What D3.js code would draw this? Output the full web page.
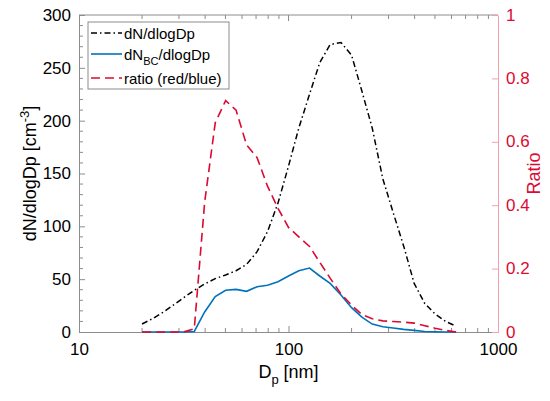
<!DOCTYPE html>
<html>
<head>
<meta charset="utf-8">
<script src="https://cdn.jsdelivr.net/npm/d3@7"></script>
<style>
  body { margin: 0; background: #fff; }
  svg { font-family: "Liberation Sans", Arial, sans-serif; }
</style>
</head>
<body>
<div id="container"></div>
<script>
const width = 550;
const height = 401;
const margin = { top: 15, right: 52, bottom: 69, left: 79 };

// particle diameter bins [nm]
const diameters = [20, 22.4, 25.1, 28.2, 31.6, 35.5, 39.8, 44.7, 50.1, 56.2, 63.1, 70.8,
  79.4, 89.1, 100, 112, 126, 141, 158, 178, 200, 224, 251, 282, 316, 355, 398, 447,
  501, 562, 631];
const dN = [7.6, 12.5, 18.5, 25.5, 32.5, 39.5, 45.5, 50.5, 54, 58, 64, 76,
  95, 122, 157, 193, 225, 255, 272, 274, 262, 228, 193, 145, 113, 81, 46, 27,
  17, 10, 5.5];
const dNBC = [0, 0, 0, 0, 0, 0.5, 19, 33.5, 39.5, 40.3, 38.5, 42.8,
  44.3, 47.5, 53, 58, 60.5, 53, 46, 35, 23, 14, 7.5, 5, 3.8, 2.5, 1.5, 0.5,
  0.2, 0, 0];
const ratio = [0, 0, 0, 0, 0, 0.01, 0.41, 0.66, 0.73, 0.70, 0.59, 0.55,
  0.46, 0.39, 0.33, 0.30, 0.27, 0.22, 0.17, 0.12, 0.085, 0.055, 0.042, 0.035, 0.033, 0.031, 0.028, 0.02,
  0.012, 0.005, 0];

const xTicks = [10, 100, 1000];
const yTicks = [0, 50, 100, 150, 200, 250, 300];
const rTicks = [0, 0.2, 0.4, 0.6, 0.8, 1];

const blue = "#0072bd";
const red = "#dc0a32";
const axisGrey = "#8c8c8c";

const svg = d3.select("#container").append("svg")
  .attr("width", width)
  .attr("height", height);

const x = d3.scaleLog().domain([10, 1000]).range([margin.left, width - margin.right]);
const y = d3.scaleLinear().domain([0, 300]).range([height - margin.bottom, margin.top]);
const yr = d3.scaleLinear().domain([0, 1]).range([height - margin.bottom, margin.top]);

const minorX = d3.range(1, 3).flatMap((e) => d3.range(2, 10).map((m) => m * 10 ** e));
const minorY = d3.range(0, 301, 10).filter((v) => v % 50 !== 0);

// bottom axis
svg.append("g")
  .attr("transform", `translate(0,${y(0)})`)
  .call(d3.axisBottom(x).tickValues(xTicks).tickFormat(d3.format("d")).tickSizeInner(-6).tickSizeOuter(0).tickPadding(11))
  .call((g) => g.selectAll(".tick").filter((d) => d === 10 || d === 1000).select("line").remove())
  .call((g) => g.select(".domain").attr("stroke", axisGrey))
  .call((g) => g.selectAll(".tick line").attr("stroke", axisGrey))
  .call((g) => g.selectAll("text").attr("font-size", 17).attr("fill", "#000"));
svg.append("g").selectAll("line").data(minorX).join("line")
  .attr("x1", (d) => x(d)).attr("x2", (d) => x(d))
  .attr("y1", y(0)).attr("y2", y(0) - 4)
  .attr("stroke", axisGrey);

// top axis
svg.append("line")
  .attr("x1", margin.left).attr("x2", width - margin.right)
  .attr("y1", y(300)).attr("y2", y(300))
  .attr("stroke", axisGrey);
svg.append("g").selectAll("line").data(minorX.concat([100])).join("line")
  .attr("x1", (d) => x(d)).attr("x2", (d) => x(d))
  .attr("y1", y(300)).attr("y2", (d) => y(300) + (d === 100 ? 6 : 4))
  .attr("stroke", axisGrey);

// left axis
svg.append("g")
  .attr("transform", `translate(${margin.left},0)`)
  .call(d3.axisLeft(y).tickValues(yTicks).tickSizeInner(-6).tickSizeOuter(0).tickPadding(8))
  .call((g) => g.select(".domain").attr("stroke", axisGrey))
  .call((g) => g.selectAll(".tick line").attr("stroke", axisGrey))
  .call((g) => g.selectAll("text").attr("font-size", 17).attr("fill", "#000"));
svg.append("g").selectAll("line").data(minorY).join("line")
  .attr("x1", margin.left).attr("x2", margin.left + 4)
  .attr("y1", (d) => y(d)).attr("y2", (d) => y(d))
  .attr("stroke", axisGrey);

// right axis
svg.append("g")
  .attr("transform", `translate(${width - margin.right},0)`)
  .call(d3.axisRight(yr).tickValues(rTicks).tickFormat((d) => d3.format("")(d)).tickSizeInner(-6).tickSizeOuter(0).tickPadding(8))
  .call((g) => g.select(".domain").attr("stroke", "#f2a0b0"))
  .call((g) => g.selectAll(".tick line").attr("stroke", "#f2a0b0"))
  .call((g) => g.selectAll("text").attr("font-size", 17).attr("fill", red).attr("dy", "0.3em"));

// curves
const line = (vals, scale) => d3.line()
  .x((d, i) => x(diameters[i]))
  .y((d) => scale(d))(vals);

svg.append("path")
  .attr("d", line(dNBC, y))
  .attr("fill", "none").attr("stroke", blue).attr("stroke-width", 1.6);
svg.append("path")
  .attr("d", line(ratio, yr))
  .attr("fill", "none").attr("stroke", red).attr("stroke-width", 1.6)
  .attr("stroke-dasharray", "9,5");
svg.append("path")
  .attr("d", line(dN, y))
  .attr("fill", "none").attr("stroke", "#000").attr("stroke-width", 1.5)
  .attr("stroke-dasharray", "6,3,1.5,3");

// axis labels
svg.append("text")
  .attr("x", (margin.left + width - margin.right) / 2)
  .attr("y", 378)
  .attr("text-anchor", "middle")
  .attr("font-size", 18)
  .call((t) => {
    t.append("tspan").text("D");
    t.append("tspan").attr("font-size", 13).attr("dy", 6).text("p");
    t.append("tspan").attr("dy", -6).text(" [nm]");
  });

svg.append("text")
  .attr("transform", `translate(36,${(margin.top + height - margin.bottom) / 2}) rotate(-90)`)
  .attr("text-anchor", "middle")
  .attr("font-size", 18)
  .call((t) => {
    t.append("tspan").text("dN/dlogDp [cm");
    t.append("tspan").attr("font-size", 13).attr("dy", -7).text("-3");
    t.append("tspan").attr("dy", 7).text("]");
  });

svg.append("text")
  .attr("transform", `translate(540,${(margin.top + height - margin.bottom) / 2}) rotate(-90)`)
  .attr("text-anchor", "middle")
  .attr("font-size", 18)
  .attr("fill", red)
  .text("Ratio");

// legend
const legendItems = [
  { label: "dN/dlogDp", color: "#000", dash: "6,3,1.5,3", sub: null },
  { label: "dN", color: blue, dash: null, sub: "BC" },
  { label: "ratio (red/blue)", color: red, dash: "9,5", sub: null },
];
const legend = svg.append("g").attr("transform", "translate(88,22)");
legend.append("rect")
  .attr("width", 141).attr("height", 67)
  .attr("fill", "#fff").attr("stroke", axisGrey);
const li = legend.selectAll("g").data(legendItems).join("g")
  .attr("transform", (d, i) => `translate(0,${[11, 32, 56][i]})`);
li.append("line")
  .attr("x1", 3).attr("x2", 34)
  .attr("stroke", (d) => d.color).attr("stroke-width", 1.6)
  .attr("stroke-dasharray", (d) => d.dash);
li.append("text")
  .attr("x", 36).attr("y", 5.5)
  .attr("font-size", 15)
  .each(function (d) {
    const t = d3.select(this);
    t.append("tspan").text(d.label);
    if (d.sub) {
      t.append("tspan").attr("font-size", 11).attr("dy", 5).text(d.sub);
      t.append("tspan").attr("dy", -5).text("/dlogDp");
    }
  });
</script>
</body>
</html>
